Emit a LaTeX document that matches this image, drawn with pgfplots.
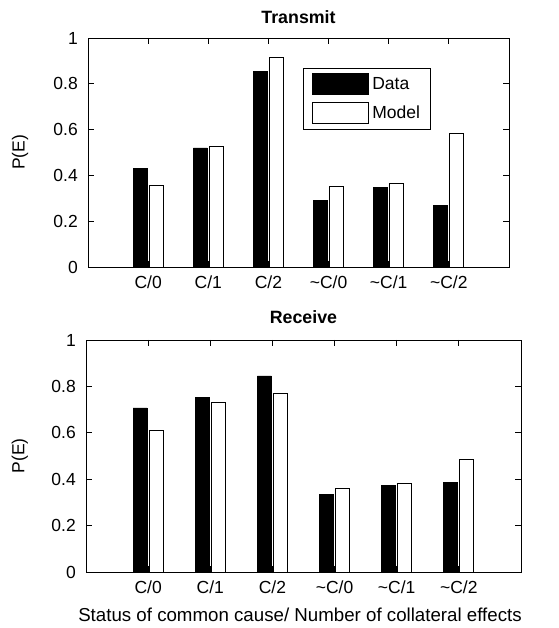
\documentclass[border=0pt]{standalone}
\usepackage{pgfplots}
\pgfplotsset{compat=1.18}
\usepackage{fontspec}
\setmainfont{Liberation Sans}

\pgfplotsset{
  pe/.style={
    scale only axis,
    font=\fontsize{17.5}{20}\selectfont,
    ybar=2pt, bar width=14pt,
    xmin=0, xmax=7, ymin=0, ymax=1,
    xtick={1,2,3,4,5,6},
    xticklabels={C/0,C/1,C/2,\textasciitilde C/0,\textasciitilde C/1,\textasciitilde C/2},
    ytick={0,0.2,0.4,0.6,0.8,1},
    /pgf/number format/assume math mode=true,
    tick align=inside, tick pos=both,
    major tick length=6pt,
    axis line style={line width=0.8pt},
    every tick/.style={black, line width=0.8pt},
    x tick label style={anchor=north, inner sep=0pt, yshift=-9pt},
    y tick label style={anchor=east, inner sep=0pt, xshift=-10pt},
    title style={font=\fontsize{17.8}{20}\selectfont\bfseries, at={(0.5,1)}, anchor=center},
    ylabel={P(E)},
  },
  barlegend/.style={legend image code/.code={\draw[##1] (0pt,-10.5pt) rectangle (56pt,10.5pt);}},
}

\begin{document}
\begin{tikzpicture}
\useasboundingbox (0,0) rectangle (558pt,628pt);

% top panel
\begin{axis}[pe,
  at={(88pt,361pt)}, anchor=south west,
  width=421pt, height=229pt,
  title={Transmit},
  title style={yshift=15pt},
  y label style={at={(axis description cs:-0.1615,0.5)}, anchor=center},
  legend style={at={(0.511,0.869)}, anchor=north west, draw=black, line width=0.8pt,
    inner xsep=8pt, inner ysep=5pt, row sep=7pt, nodes={inner sep=2pt},
    /tikz/every odd column/.append style={column sep=2pt}},
  legend cell align=left,
]
\addplot[fill=black, draw=black, line width=0.8pt, barlegend]
  coordinates {(1,0.430) (2,0.520) (3,0.853) (4,0.290) (5,0.346) (6,0.268)};
\addplot[fill=white, draw=black, line width=0.8pt, barlegend]
  coordinates {(1,0.358) (2,0.528) (3,0.914) (4,0.351) (5,0.365) (6,0.584)};
\legend{Data,Model}
\end{axis}

% bottom panel
\begin{axis}[pe,
  at={(86pt,56pt)}, anchor=south west,
  width=435pt, height=232pt,
  title={Receive},
  title style={yshift=17pt},
  y label style={at={(axis description cs:-0.152,0.5)}, anchor=center},
  xlabel={Status of common cause/ Number of collateral effects},
  x label style={at={(axis description cs:0.5,0)}, anchor=center, yshift=-43pt, xshift=-3.5pt,
    font=\fontsize{18.7}{21}\selectfont},
]
\addplot[fill=black, draw=black, line width=0.8pt]
  coordinates {(1,0.707) (2,0.753) (3,0.845) (4,0.335) (5,0.374) (6,0.387)};
\addplot[fill=white, draw=black, line width=0.8pt]
  coordinates {(1,0.611) (2,0.731) (3,0.770) (4,0.359) (5,0.381) (6,0.486)};
\end{axis}
\end{tikzpicture}
\end{document}
